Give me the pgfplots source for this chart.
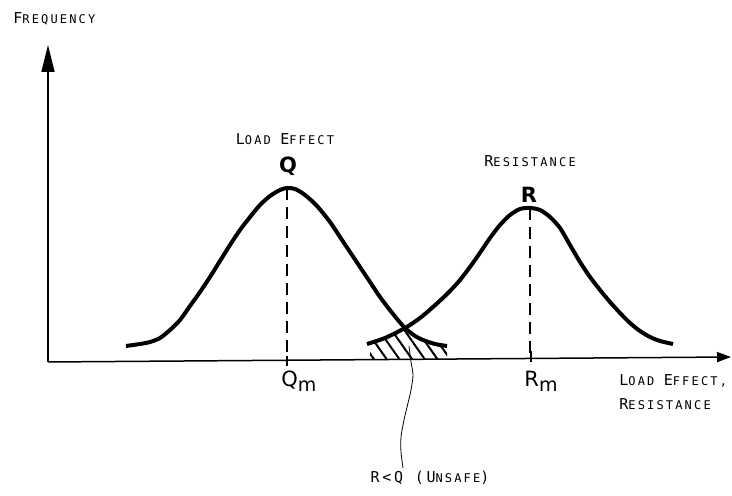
\documentclass[border=0pt]{standalone}
\usepackage{pgfplots}
\pgfplotsset{compat=1.18}
\usepackage{fontspec}
\usetikzlibrary{arrows.meta,patterns.meta}
\setmainfont{DejaVu Sans Mono}[LetterSpace=18]
\newfontfamily\symfont{DejaVu Sans}
\newcommand\C[1]{{\fontsize{7.5}{9}\selectfont #1}}
\newcommand\Sm[1]{{\fontsize{6}{7}\selectfont #1}}
\newcommand\sub[1]{\raisebox{-2.6pt}{\fontsize{9.5}{9}\selectfont #1}}

\begin{document}
\begin{tikzpicture}
\begin{axis}[
scale only axis,
width=366pt, height=248pt,
xmin=0, xmax=732, ymin=0, ymax=496,
hide axis,
clip=false,
]
\path (rel axis cs:0,0) rectangle (rel axis cs:1,1);

% hatched unsafe region
\addplot [draw=none, pattern={Lines[angle=-55, distance=5.2pt, line width=1pt]}]
coordinates {
(370,137) (370,153) (385,158) (395,163) (405,168) (415,160) (423,156) (435,152) (447,150) (447,137)
} --cycle;

% load effect Q
\addplot [line width=2pt, smooth, tension=0.5]
coordinates {
(126,150) (140,152) (150,154) (160,158) (170,166) (180,176) (190,190) (200,204) (210,219)
(220,235) (230,251) (240,266) (250,279) (260,291) (270,300) (280,306) (287,308)
(295,307) (305,301) (317,290) (330,274) (340,259) (350,244) (360,229) (370,214)
(380,199) (393,182) (405,168) (415,160) (423,156) (435,152) (447,150)
};

% resistance R
\addplot [line width=2pt, smooth, tension=0.5]
coordinates {
(367,152) (385,158) (405,168) (420,178) (433,189) (447,202) (460,216) (475,236) (490,258)
(500,271) (510,281) (520,287) (530,288) (540,286) (550,279) (560,268) (570,251)
(580,234) (590,219) (600,206) (610,194) (620,183) (630,173) (640,165) (650,159)
(660,155) (673,152)
};

% mean lines
\addplot [line width=0.75pt, dash pattern=on 6pt off 3.5pt] coordinates {(287,308) (287,136)};
\addplot [line width=0.75pt, dash pattern=on 6pt off 3.5pt] coordinates {(530,288) (530,138)};
\addplot [line width=0.6pt] coordinates {(287,140) (287,130)};
\addplot [line width=0.6pt] coordinates {(531,145) (531,134)};

% leader line to the unsafe label
\addplot [line width=0.4pt, smooth] coordinates {
(409,150) (411,134) (413,121) (411,106) (408,93) (404,76) (401,59) (401,44) (403,28)
};

% axes
\draw [line width=0.75pt, -{Triangle[length=13.5pt, width=6.5pt]}] (axis cs:48,134) -- (axis cs:48,451);
\draw [line width=0.75pt, -{Triangle[length=7pt, width=5pt]}] (axis cs:48,134) -- (axis cs:731,139);

% labels
\node [anchor=west, inner sep=0pt] at (axis cs:13,477) {\C{F}\Sm{REQUENCY}};
\node [inner sep=0pt] at (axis cs:285,357) {\C{L}\Sm{OAD }\C{E}\Sm{FFECT}};
\node [inner sep=0pt] at (axis cs:288,330) {\symfont\bfseries\fontsize{10.5}{12}\selectfont Q};
\node [anchor=west, inner sep=0pt] at (axis cs:484,335) {\C{R}\Sm{ESISTANCE}};
\node [inner sep=0pt] at (axis cs:529,301) {\symfont\bfseries\fontsize{10.5}{12}\selectfont R};
\node [anchor=west, inner sep=0pt] at (axis cs:281,115) {\symfont\fontsize{10.5}{12}\selectfont Q\sub{m}};
\node [anchor=west, inner sep=0pt] at (axis cs:524,115) {\symfont\fontsize{10.5}{12}\selectfont R\sub{m}};
\node [anchor=west, inner sep=0pt] at (axis cs:619,115) {\C{L}\Sm{OAD }\C{E}\Sm{FFECT,}};
\node [anchor=west, inner sep=0pt] at (axis cs:619,92) {\C{R}\Sm{ESISTANCE}};
\node [inner sep=0pt] at (axis cs:430,18) {\C{R<Q (U}\Sm{NSAFE}\C{)}};
\end{axis}
\end{tikzpicture}
\end{document}
